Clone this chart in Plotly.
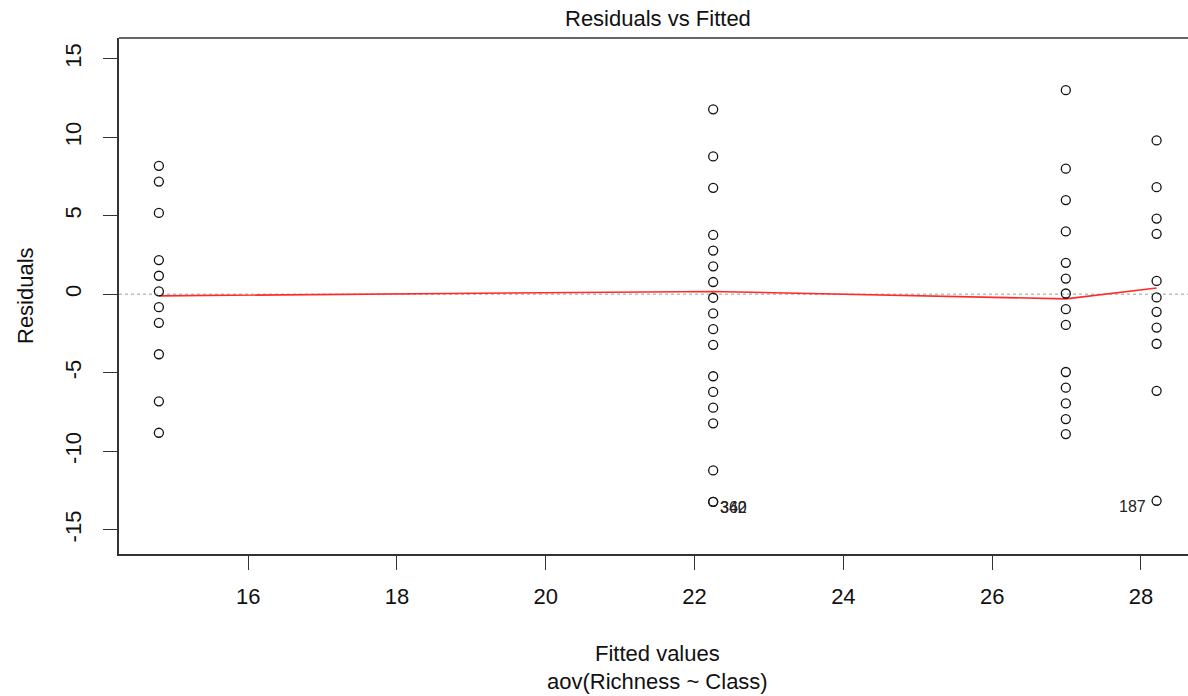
import plotly.graph_objects as go

# Fitted values (one per group) and residuals
fitted_groups = [14.80, 22.25, 26.99, 28.21]
residuals_g1 = [8.18, 7.18, 5.18, 2.18, 1.18, 0.18, -0.82, -1.82, -3.82, -6.82, -8.82]
residuals_g2 = [11.78, 8.78, 6.78, 3.78, 2.78, 1.78, 0.78, -0.22, -1.22, -2.22, -3.22,
                -5.22, -6.22, -7.22, -8.22, -11.22, -13.22, -13.22]
residuals_g3 = [13.0, 8.0, 6.0, 4.0, 2.0, 1.0, 0.05, -0.95, -1.95, -4.95, -5.95, -6.95, -7.95, -8.9]
residuals_g4 = [9.8, 6.82, 4.82, 3.85, 0.85, -0.2, -1.12, -2.12, -3.15, -6.15, -13.15]

# lowess smoother values at each fitted value
smooth_y = [-0.10, 0.18, -0.29, 0.40]

# Labelled extreme points
label_x = [22.25, 22.25, 28.21]
label_y = [-13.22, -13.22, -13.15]
label_text = ["340", "362", "187"]
label_side = ["right", "right", "left"]

x_ticks = [16, 18, 20, 22, 24, 26, 28]
y_ticks = [-15, -10, -5, 0, 5, 10, 15]
y_tick_text = ["-15", "-10", "-5", "0", "5", "10", "15"]

groups = [residuals_g1, residuals_g2, residuals_g3, residuals_g4]
xs, ys = [], []
for fx, res in zip(fitted_groups, groups):
    xs += [fx] * len(res)
    ys += res

FONT = "Liberation Sans, Arial, sans-serif"
XR = [14.264, 28.632]
YR = [-16.54, 16.32]
xmid = (14.264 + 28.746) / 2

fig = go.Figure()
# zero reference line
fig.add_trace(go.Scatter(x=XR, y=[0, 0], mode="lines",
                         line=dict(color="#bdbdbd", width=1.3, dash="dot"),
                         hoverinfo="skip", showlegend=False))
# lowess smoother
fig.add_trace(go.Scatter(x=fitted_groups, y=smooth_y, mode="lines",
                         line=dict(color="#ff2a2a", width=1.6),
                         showlegend=False))
# residual points
fig.add_trace(go.Scatter(x=xs, y=ys, mode="markers",
                         marker=dict(symbol="circle-open", size=9,
                                     color="#111", line=dict(width=1.3, color="#111")),
                         showlegend=False))

anns = []
for lx, ly, lt, side in zip(label_x, label_y, label_text, label_side):
    anns.append(dict(x=lx, y=ly, xref="x", yref="y", text=lt, showarrow=False,
                     xanchor="left" if side == "right" else "right",
                     xshift=5 if side == "right" else -9, yshift=-6,
                     font=dict(family=FONT, size=16, color="#222")))

anns += [
    dict(x=xmid, y=1, xref="x", yref="paper", text="Residuals vs Fitted", showarrow=False,
         yanchor="middle", yshift=20, font=dict(family=FONT, size=22, color="#111")),
    dict(x=xmid, y=0, xref="x", yref="paper", text="Fitted values", showarrow=False,
         yanchor="middle", yshift=-99, font=dict(family=FONT, size=22, color="#111")),
    dict(x=xmid, y=0, xref="x", yref="paper", text="aov(Richness ~ Class)", showarrow=False,
         yanchor="middle", yshift=-127, font=dict(family=FONT, size=22, color="#111")),
    dict(x=0, y=0.5, xref="paper", yref="paper", text="Residuals", showarrow=False,
         textangle=-90, xanchor="center", yanchor="middle", xshift=-94,
         font=dict(family=FONT, size=22, color="#111")),
]

fig.update_layout(
    width=1188, height=696,
    margin=dict(l=119, r=0, t=38, b=142),
    paper_bgcolor="white", plot_bgcolor="white",
    showlegend=False,
    annotations=anns,
    shapes=[dict(type="line", xref="paper", yref="paper", x0=0, x1=1, y0=1, y1=1,
                 line=dict(color="#333", width=1.5))],
    font=dict(family=FONT, size=22, color="#111"),
)
fig.update_xaxes(range=XR, tickvals=x_ticks, ticks="outside", ticklen=14, tickwidth=1.3,
                 tickcolor="#333", showline=True, linecolor="#333", linewidth=1.5,
                 showgrid=False, zeroline=False, ticklabelstandoff=8,
                 tickfont=dict(family=FONT, size=22, color="#111"))
fig.update_yaxes(range=YR, tickvals=y_ticks, ticktext=y_tick_text, ticks="outside",
                 ticklen=14, tickwidth=1.3,
                 tickcolor="#333", showline=True, linecolor="#333", linewidth=1.5,
                 showgrid=False, zeroline=False, tickangle=-90, ticklabelstandoff=13,
                 tickfont=dict(family=FONT, size=22, color="#111"))

fig.write_html("out.html")
